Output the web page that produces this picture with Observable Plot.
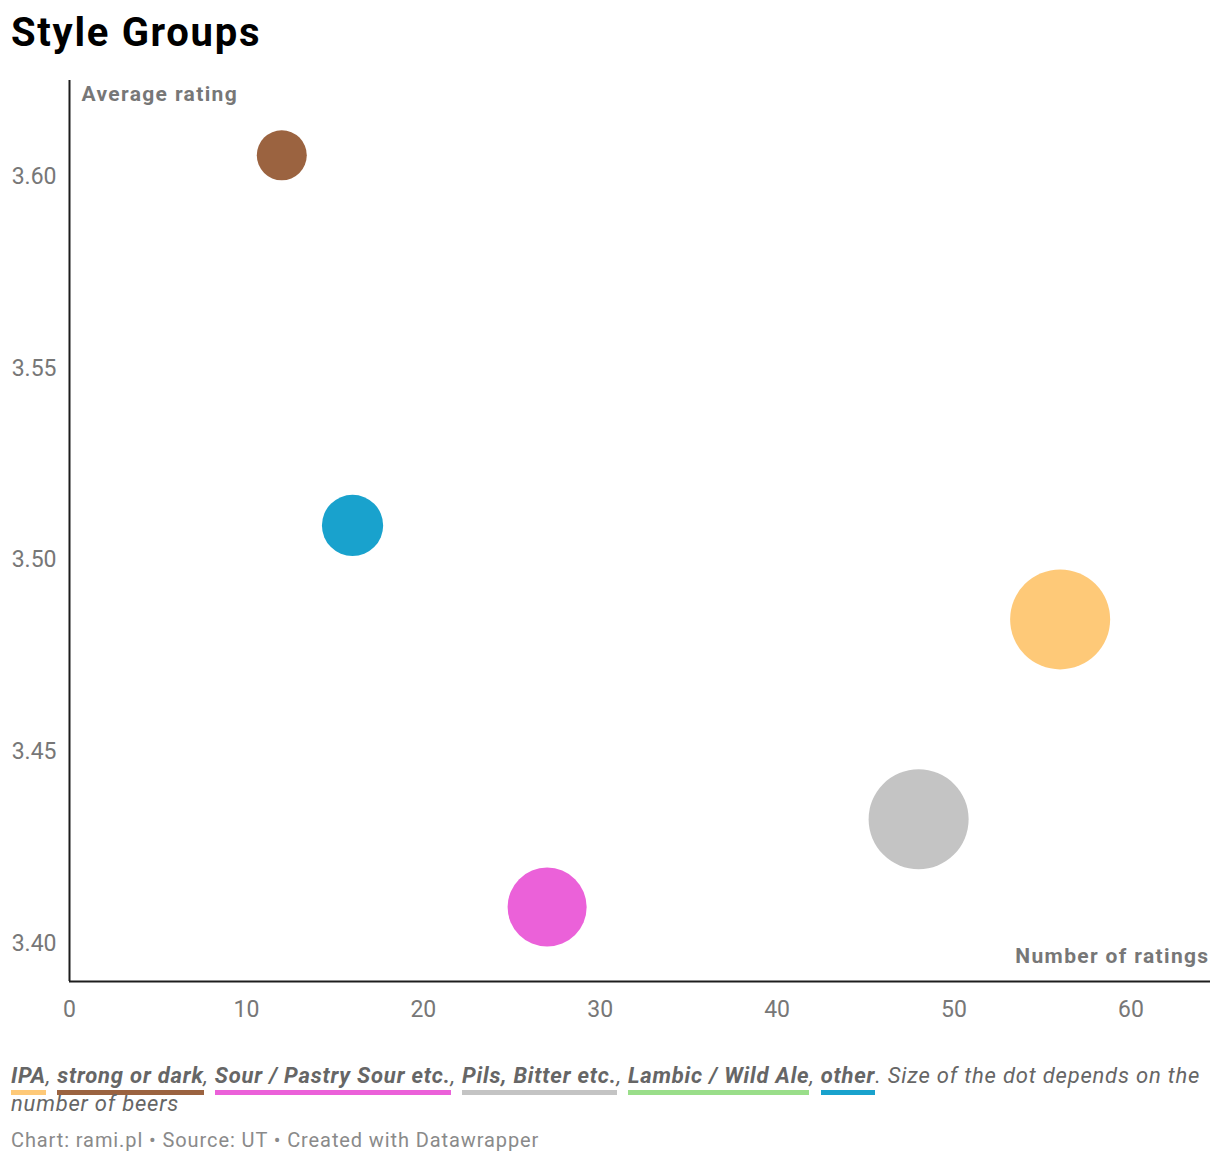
<!DOCTYPE html>
<html>
<head>
<meta charset="utf-8">
<script src="https://cdn.jsdelivr.net/npm/d3@7"></script>
<script src="https://cdn.jsdelivr.net/npm/@observablehq/plot@0.6"></script>
<style>
  html, body { margin: 0; padding: 0; background: #fff; }
  body { font-family: Roboto, "Noto Sans", sans-serif; width: 1220px; }
  #title { box-sizing: border-box; height: 70px; padding: 10px 0 0 11px; margin: 0;
           font: 700 40px/46px Roboto, sans-serif; letter-spacing: 1.7px; color: #000; }
  #chart svg { display: block; }
  #legend { margin: 36px 0 0 11px; width: 1209px; white-space: nowrap; font: italic 400 22px/28px Roboto, sans-serif; letter-spacing: 0.8px; color: #666; }
  #legend .k { font-weight: 700; color: #666; padding-bottom: 2px; border-bottom: 5px solid; }
  #footer { margin: 10px 0 0 11px; font: 400 20px/24px Roboto, sans-serif; letter-spacing: 0.9px; color: #8a8a8a; }
</style>
</head>
<body>
<div id="title">Style Groups</div>
<div id="chart"></div>
<div id="legend"></div>
<div id="footer">Chart: rami.pl • Source: UT • Created with Datawrapper</div>
<script>
// Legend categories and colours
const groupNames = ["IPA", "strong or dark", "Sour / Pastry Sour etc.", "Pils, Bitter etc.", "Lambic / Wild Ale", "other"];
const groupColors = ["#fec978", "#9b6340", "#eb61d9", "#c4c4c4", "#9ade8a", "#19a2cd"];

// Dots (Lambic / Wild Ale has no dot in the chart)
const dotGroups = ["strong or dark", "other", "IPA", "Pils, Bitter etc.", "Sour / Pastry Sour etc."];
const numberOfRatings = [12, 16, 56, 48, 27];
const averageRating = [3.6055, 3.509, 3.4845, 3.4324, 3.4095];
const numberOfBeers = [4, 6, 16, 16, 10];

// Ticks
const xTicks = [0, 10, 20, 30, 40, 50, 60];
const yTicks = [3.40, 3.45, 3.50, 3.55, 3.60];

const data = dotGroups.map((g, i) => ({
  group: g, x: numberOfRatings[i], y: averageRating[i], beers: numberOfBeers[i]
}));

const yMin = 3.3901, yMax = 3.625;

const chart = Plot.plot({
  width: 1220,
  height: 956,
  marginTop: 10,
  marginBottom: 45,
  marginLeft: 69,
  marginRight: 10,
  style: { fontFamily: "Roboto, sans-serif", fontSize: "23px", color: "#777", background: "#fff", overflow: "visible" },
  x: { domain: [0, 64.5] },
  y: { domain: [yMin, yMax] },
  r: { type: "sqrt", domain: [0, 16], range: [0, 50] },
  color: { domain: groupNames, range: groupColors },
  marks: [
    Plot.axisX({ ticks: xTicks, tickSize: 0, tickPadding: 19, label: null, fontSize: 23, fill: "#777" }),
    Plot.axisY({ ticks: yTicks, tickSize: 0, tickPadding: 13, label: null, fontSize: 23, fill: "#777", tickFormat: d3.format(".2f") }),
    Plot.dot(data, { x: "x", y: "y", r: "beers", fill: "group", stroke: "none", fillOpacity: 1 }),
    Plot.ruleX([0], { stroke: "#1d1d1d", strokeWidth: 2 }),
    Plot.ruleY([yMin], { stroke: "#1d1d1d", strokeWidth: 2 }),
    Plot.text(["Average rating"], { text: d => d, frameAnchor: "top-left", dx: 12, dy: 6, lineAnchor: "top", textAnchor: "start", fontWeight: "bold", fontSize: 21, fill: "#777", style: "letter-spacing:1.4px" }),
    Plot.text(["Number of ratings"], { text: d => d, frameAnchor: "bottom-right", dx: -1, dy: -25, lineAnchor: "middle", textAnchor: "end", fontWeight: "bold", fontSize: 21, fill: "#777" })
  ]
});
document.getElementById("chart").appendChild(chart);
// widen axis-title letter spacing like the reference
chart.querySelectorAll("text").forEach(t => {
  if (t.textContent === "Average rating" || t.textContent === "Number of ratings") t.setAttribute("letter-spacing", "1.35");
});

// Legend text
const legend = document.getElementById("legend");
groupNames.forEach((g, i) => {
  const s = document.createElement("span");
  s.className = "k";
  s.style.borderBottomColor = groupColors[i];
  s.textContent = g;
  legend.appendChild(s);
  legend.appendChild(document.createTextNode(i < groupNames.length - 1 ? ", " : ". "));
});
legend.appendChild(document.createTextNode("Size of the dot depends on the"));
legend.appendChild(document.createElement("br"));
legend.appendChild(document.createTextNode("number of beers"));
</script>
</body>
</html>
